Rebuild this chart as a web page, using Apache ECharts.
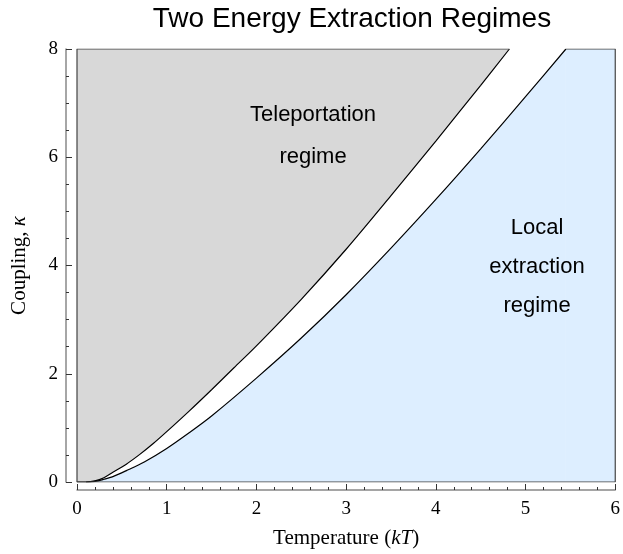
<!DOCTYPE html>
<html>
<head>
<meta charset="utf-8">
<script src="https://cdn.jsdelivr.net/npm/echarts@6/dist/echarts.min.js"></script>
<style>
  html, body { margin: 0; padding: 0; background: #fff; }
  #main { width: 623px; height: 554px; }
</style>
</head>
<body>
<div id="main"></div>
<script>
// axis ranges and ticks
var xMin = 0, xMax = 6, yMin = 0, yMax = 8
var xTicks = [0, 1, 2, 3, 4, 5, 6]
var yTicks = [0, 2, 4, 6, 8]

// upper boundary (teleportation regime lies above it)
var upperT = [0, 0.10, 0.20, 0.30, 0.40, 0.55, 0.70, 0.85, 1.00, 1.25, 1.50, 1.75, 2.00, 2.50, 3.00, 3.50, 4.00, 4.50, 4.82]
var upperK = [0, 0.00, 0.02, 0.08, 0.18, 0.33, 0.51, 0.71, 0.93, 1.31, 1.705, 2.11, 2.515, 3.375, 4.30, 5.29, 6.30, 7.33, 8.00]

// lower boundary (local extraction regime lies below it)
var lowerT = [0.10, 0.20, 0.30, 0.40, 0.55, 0.75, 1.00, 1.25, 1.50, 2.00, 2.50, 3.00, 3.50, 4.00, 4.50, 5.00, 5.45]
var lowerK = [0.00, 0.01, 0.05, 0.10, 0.21, 0.37, 0.62, 0.91, 1.22, 1.92, 2.66, 3.46, 4.32, 5.22, 6.155, 7.12, 8.00]

var serif = 'Liberation Serif'
var sans = 'Liberation Sans'

function pairs (xs, ys) {
  var out = []
  for (var i = 0; i < xs.length; i++) {
    out.push([xs[i], ys[i]])
  }
  return out
}

// frame edges of the two shaded regions
var upperEnd = upperT[upperT.length - 1]
var lowerEnd = lowerT[lowerT.length - 1]
var edges = [[lowerEnd, yMax], [xMax, yMax], [xMax, yMin], [xMin, yMin], [xMin, yMax], [upperEnd, yMax]]

var Chart = echarts.init(document.getElementById('main'))
var Options = {
  animation: false,
  title: {
    text: 'Two Energy Extraction Regimes',
    left: 347,
    top: 0,
    textAlign: 'center',
    textStyle: {
      fontFamily: sans,
      fontSize: 28,
      fontWeight: 'normal',
      color: '#000'
    }
  },
  grid: {
    left: 77,
    right: 5,
    top: 49,
    bottom: 72
  },
  xAxis: {
    type: 'value',
    min: xMin,
    max: xMax,
    interval: 1,
    offset: 8,
    name: '{a|Temperature (}{b|kT}{a|)}',
    nameLocation: 'middle',
    nameGap: 38,
    nameTextStyle: {
      rich: {
        a: { fontFamily: serif, fontSize: 21, color: '#000' },
        b: { fontFamily: serif, fontSize: 21, fontStyle: 'italic', color: '#000' }
      }
    },
    axisLine: { show: true, onZero: false, lineStyle: { color: '#888', width: 1.5 } },
    axisTick: { show: true, inside: true, length: 6, lineStyle: { color: '#333' } },
    minorTick: { show: true, splitNumber: 5, length: 3, lineStyle: { color: '#333' } },
    splitLine: { show: false },
    axisLabel: {
      margin: 10,
      fontFamily: serif,
      fontSize: 19,
      color: '#000',
      formatter: function (v) { return xTicks.indexOf(v) >= 0 ? String(v) : '' }
    }
  },
  yAxis: {
    type: 'value',
    min: yMin,
    max: yMax,
    interval: 2,
    offset: 11,
    name: '{a|Coupling, }{b|κ}',
    nameLocation: 'middle',
    nameRotate: 90,
    nameGap: 36,
    nameTextStyle: {
      rich: {
        a: { fontFamily: serif, fontSize: 21, color: '#000' },
        b: { fontFamily: serif, fontSize: 21, fontStyle: 'italic', color: '#000' }
      }
    },
    axisLine: { show: true, onZero: false, lineStyle: { color: '#888', width: 1.5 } },
    axisTick: { show: true, inside: true, length: 6, lineStyle: { color: '#333' } },
    minorTick: { show: true, splitNumber: 4, length: 3, lineStyle: { color: '#333' } },
    splitLine: { show: false },
    axisLabel: {
      margin: 8,
      fontFamily: serif,
      fontSize: 19,
      color: '#000',
      formatter: function (v) { return yTicks.indexOf(v) >= 0 ? String(v) : '' }
    }
  },
  series: [{
    // teleportation regime
    type: 'line',
    data: pairs(upperT, upperK),
    smooth: 0.3,
    symbol: 'none',
    lineStyle: { color: '#000', width: 1.2 },
    areaStyle: { color: '#d8d8d8', opacity: 1, origin: 'end' },
    z: 2
  }, {
    // local extraction regime
    type: 'line',
    data: pairs(lowerT, lowerK),
    smooth: 0.3,
    symbol: 'none',
    lineStyle: { color: '#000', width: 1.2 },
    areaStyle: { color: '#ddeeff', opacity: 1, origin: 'start' },
    z: 2
  }, {
    // rest of the local regime, right of where the lower curve leaves the frame
    type: 'line',
    data: [[lowerEnd, yMax], [xMax, yMax]],
    symbol: 'none',
    lineStyle: { width: 0 },
    areaStyle: { color: '#ddeeff', opacity: 1, origin: 'start' },
    z: 2
  }, {
    type: 'line',
    data: edges,
    symbol: 'none',
    lineStyle: { color: '#444', width: 1.2 },
    z: 3
  }],
  graphic: [{
    type: 'text',
    x: 313,
    y: 94,
    z: 100,
    style: {
      text: 'Teleportation\nregime',
      align: 'center',
      fontFamily: sans,
      fontSize: 22,
      lineHeight: 42,
      fill: '#000'
    }
  }, {
    type: 'text',
    x: 537,
    y: 208,
    z: 100,
    style: {
      text: 'Local\nextraction\nregime',
      align: 'center',
      fontFamily: sans,
      fontSize: 22,
      lineHeight: 39,
      fill: '#000'
    }
  }]
}
Chart.setOption(Options)
</script>
</body>
</html>
